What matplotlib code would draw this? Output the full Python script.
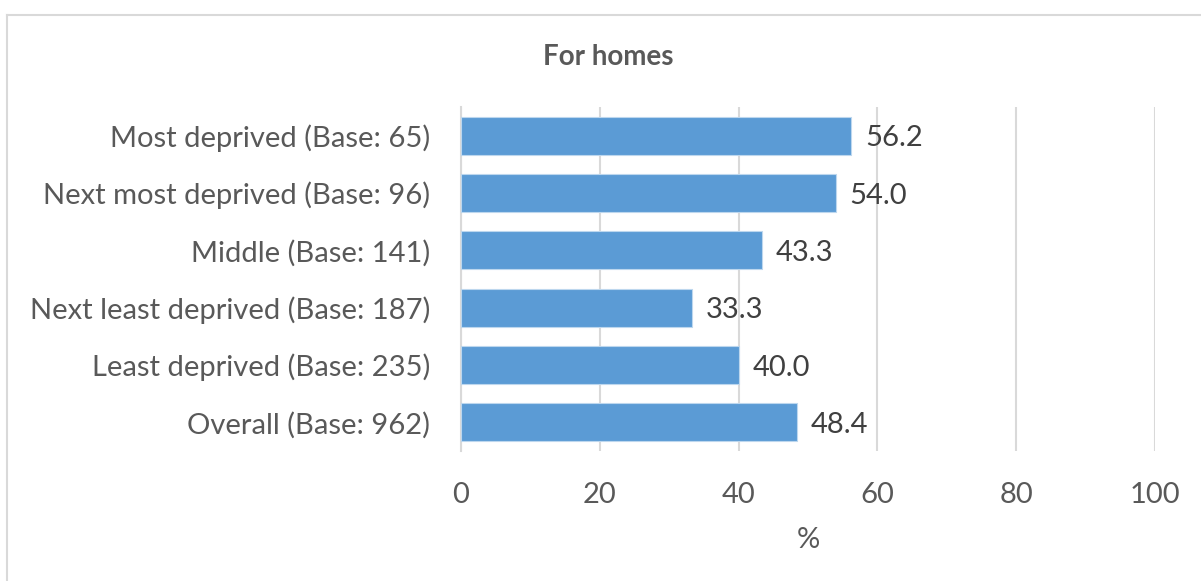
import matplotlib
matplotlib.use("Agg")
import matplotlib.pyplot as plt
from matplotlib.lines import Line2D

# data
categories = ["Most deprived (Base: 65)", "Next most deprived (Base: 96)",
              "Middle (Base: 141)", "Next least deprived (Base: 187)",
              "Least deprived (Base: 235)", "Overall (Base: 962)"]
values = [56.2, 54.0, 43.3, 33.3, 40.0, 48.4]
xticks = [0, 20, 40, 60, 80, 100]

plt.rcParams['font.family'] = ['Lato', 'DejaVu Sans']
text_color = '#595959'
bar_color = '#5B9BD5'
grid_color = '#D9D9D9'
fs = 21

fig = plt.figure(figsize=(12.01, 5.81), dpi=100)
ax = fig.add_axes([461 / 1201, 1 - 451 / 581, (1155 - 461) / 1201, (451 - 107) / 581])

ypos = list(range(len(categories)))
ax.barh(ypos, values, height=0.66, color=bar_color, edgecolor='#BDD7EE', linewidth=0.8, zorder=3)
for y, v in zip(ypos, values):
    ax.annotate("{:.1f}".format(v), (v, y), xytext=(10, -2), textcoords='offset points',
                ha='left', va='center', fontsize=fs, color='#404040')

ax.set_xlim(0, 100)
ax.set_ylim(len(categories) - 0.5, -0.5)
ax.set_yticks(ypos)
ax.set_yticklabels(categories)
ax.set_xticks(xticks)
ax.set_xticklabels([str(t) for t in xticks])
ax.tick_params(axis='y', length=0, pad=22, labelsize=fs, labelcolor=text_color)
ax.tick_params(axis='x', length=0, pad=22, labelsize=fs, labelcolor=text_color)
ax.xaxis.grid(True, color=grid_color, linewidth=1.5, zorder=0)
for s in ['top', 'right', 'bottom']:
    ax.spines[s].set_visible(False)
ax.spines['left'].set_color(grid_color)
ax.spines['left'].set_linewidth(1.5)
ax.set_xlabel("%", fontsize=fs, color=text_color, labelpad=14)

fig.text(608 / 1201, 1 - 57 / 581, "For homes", ha='center', va='center',
         fontsize=20, fontweight='bold', color=text_color)

# chart frame
fig.add_artist(Line2D([7 / 1201, 1], [1 - 15 / 581, 1 - 15 / 581], transform=fig.transFigure, color=grid_color, linewidth=1.5))
fig.add_artist(Line2D([7 / 1201, 7 / 1201], [0, 1 - 15 / 581], transform=fig.transFigure, color=grid_color, linewidth=1.5))

fig.savefig("out.png", dpi=100, facecolor='white')
